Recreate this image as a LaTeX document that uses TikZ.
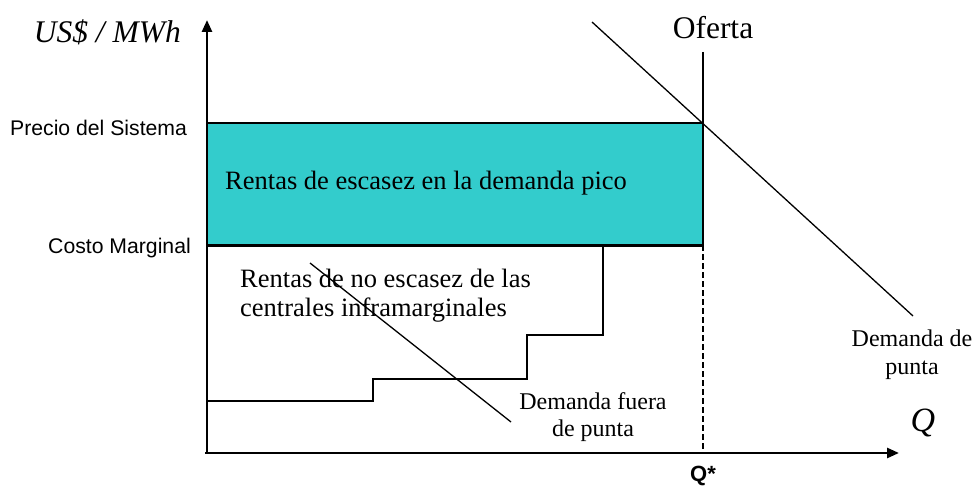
\documentclass[tikz,border=0pt]{standalone}
\usepackage{fontspec}
\setmainfont{Liberation Serif}
\newfontfamily\arialfont{Liberation Sans}
\usetikzlibrary{positioning, arrows.meta}
\definecolor{rentteal}{RGB}{51,204,204}

\begin{document}
\begin{tikzpicture}[x=1pt, y=-1pt, every node/.style={inner sep=0pt, align=center},
  axis/.style={line width=2.6pt, -{Triangle[length=12pt, width=10pt]}},
  curve/.style={line width=1.3pt},
  serif/.style={font=\fontsize{26.5}{29}\selectfont},
  sans/.style={font=\arialfont\fontsize{21.2}{24}\selectfont}]
\useasboundingbox (0,0) rectangle (976,486);
% key points
\coordinate (origin) at (207,453);
\coordinate (ytop) at (207,20);
\coordinate (xend) at (899,453);
\coordinate (price) at (207,123);
\coordinate (cost) at (207,245);
\coordinate (eq) at (703,123);
\coordinate (eqcost) at (703,245);
\coordinate (qstar) at (703,453);
\coordinate (oftop) at (703,52);
% scarcity rent box
\fill[rentteal] (price) rectangle (eqcost);
\draw[curve] (price) -- (eq);
\draw[curve] (eq) -- (eqcost);
\draw[line width=3pt] (cost) -- (eqcost);
\draw[curve] (oftop) -- (eq);
\draw[line width=2.4pt, dash pattern=on 6pt off 3pt] (eqcost) -- (qstar);
% inframarginal supply steps
\coordinate (s0) at (207,401);
\coordinate (s1) at (373,379);
\coordinate (s2) at (527,335);
\coordinate (s3) at (603,246);
\draw[curve] (s0) -| (s1) -| (s2) -| (s3);
% demand curves
\coordinate (dp1) at (592,22);
\coordinate (dp2) at (913,316);
\draw[curve] (dp1) -- (dp2);
\coordinate (df1) at (310,263);
\coordinate (df2) at (511,422);
\draw[curve] (df1) -- (df2);
% axes
\draw[axis] (origin) -- (ytop);
\draw[axis] (205,453) -- (xend);
% labels
\node[font=\fontsize{31.5}{34}\selectfont\itshape, anchor=east] (yunit) at (181,32) {US\$ / MWh};
\node[sans, anchor=west] (plabel) at (10,128) {Precio del Sistema};
\node[sans, anchor=east] (clabel) at (191,248) {Costo Marginal};
\node[font=\fontsize{31.5}{34}\selectfont] (oferta) at (713,28) {Oferta};
\node[serif, anchor=west] (rpeak) at (225,183) {Rentas de escasez en la demanda pico};
\node[serif, anchor=west, align=left] (rinfra) at (240,296) {Rentas de no escasez de las\\centrales inframarginales};
\node[font=\fontsize{24}{27}\selectfont] (dfuera) at (593,417) {Demanda fuera\\de punta};
\node[font=\fontsize{24}{28}\selectfont] (dpunta) at (912,355) {Demanda de\\punta};
\node[font=\fontsize{34}{36}\selectfont\itshape] (qlabel) at (923,423) {Q};
\node[font=\arialfont\bfseries\fontsize{22}{24}\selectfont] (qslabel) at (703,476) {Q*};
\end{tikzpicture}
\end{document}
